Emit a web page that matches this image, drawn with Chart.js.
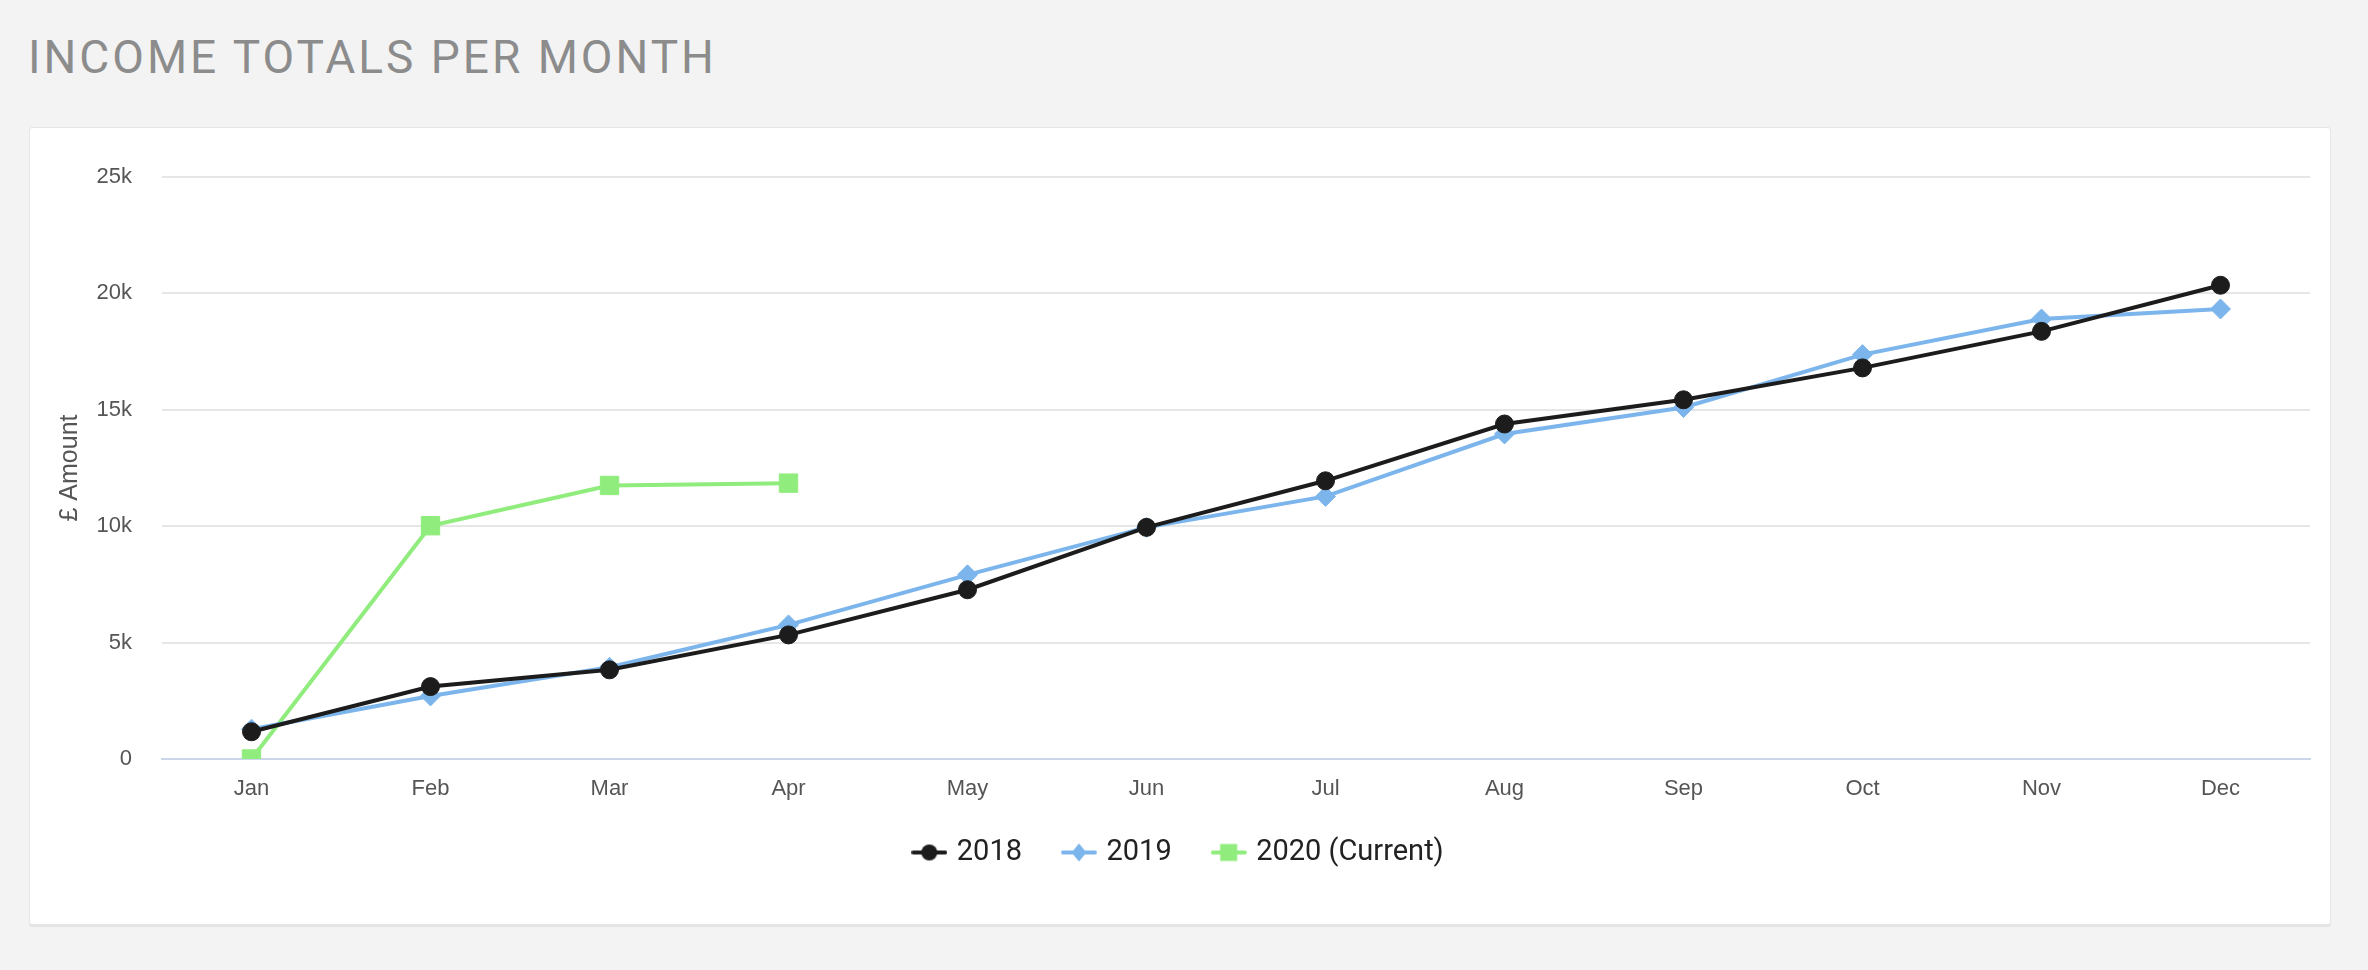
<!DOCTYPE html>
<html>
<head>
<meta charset="utf-8">
<script src="https://cdn.jsdelivr.net/npm/chart.js@4.4.1/dist/chart.umd.min.js"></script>
<style>
  html, body { margin: 0; padding: 0; }
  body { width: 2368px; height: 970px; background: #f3f3f3; position: relative; overflow: hidden; }
  #title {
    position: absolute; left: 28px; top: 34px;
    font-family: Roboto, "Liberation Sans", sans-serif; font-size: 46px; line-height: 1;
    color: #8c8c8c; white-space: nowrap; letter-spacing: 3px;
  }
  #card {
    position: absolute; left: 29px; top: 127px; width: 2300px; height: 796px;
    background: #fff; border: 1px solid #e6e6e6; border-radius: 3px;
    box-shadow: 0 2px 0 #e4e4e4;
  }
  #wrap { position: absolute; left: 0; top: 0; width: 2300px; height: 796px; }
</style>
</head>
<body>
<div id="title">INCOME TOTALS PER MONTH</div>
<div id="card"><div id="wrap"><canvas id="c"></canvas></div></div>
<script>
const months = ['Jan','Feb','Mar','Apr','May','Jun','Jul','Aug','Sep','Oct','Nov','Dec'];
const income2018 = [1170, 3110, 3830, 5330, 7270, 9950, 11950, 14390, 15430, 16800, 18370, 20350];
const income2019 = [1280, 2710, 3940, 5760, 7910, 9950, 11280, 13960, 15100, 17370, 18900, 19330];
const income2020 = [0, 10020, 11750, 11850];
const seriesNames = ['2018', '2019', '2020 (Current)'];
const seriesColors = ['#1c1c1c', '#7cb5ec', '#90ed7d'];
const yTickValues = [0, 5000, 10000, 15000, 20000, 25000];
const yTickLabels = ['0', '5k', '10k', '15k', '20k', '25k'];
const yAxisTitle = '£ Amount';

function legendMarker(color, shape) {
  const c = document.createElement('canvas');
  c.width = 36; c.height = 22;
  const g = c.getContext('2d');
  g.strokeStyle = color; g.lineWidth = 4; g.lineCap = 'round';
  g.beginPath(); g.moveTo(2, 11); g.lineTo(34, 11); g.stroke();
  g.fillStyle = color;
  g.beginPath();
  if (shape === 'circle') { g.arc(18, 11, 8, 0, Math.PI * 2); }
  else if (shape === 'diamond') { g.moveTo(18, 2); g.lineTo(25.5, 11); g.lineTo(18, 20); g.lineTo(10.5, 11); g.closePath(); }
  else { g.rect(9.5, 2.5, 17, 17); }
  g.fill();
  return c;
}
const markers = [legendMarker(seriesColors[0], 'circle'), legendMarker(seriesColors[1], 'diamond'), legendMarker(seriesColors[2], 'square')];

const legendNudge = {
  id: 'legendNudge',
  afterLayout(chart) {
    const l = chart.legend;
    if (l) { l.top -= 11; l.bottom -= 11; }
  }
};

new Chart(document.getElementById('c'), {
  type: 'line',
  data: {
    labels: months,
    datasets: [
      { label: seriesNames[0], data: income2018, borderColor: seriesColors[0], backgroundColor: seriesColors[0],
        pointStyle: 'circle', pointRadius: 9, pointBorderWidth: 1, borderWidth: 4, tension: 0 },
      { label: seriesNames[1], data: income2019, borderColor: seriesColors[1], backgroundColor: seriesColors[1],
        pointStyle: 'rectRot', pointRadius: 10, pointBorderWidth: 1, borderWidth: 4, tension: 0 },
      { label: seriesNames[2], data: income2020, borderColor: seriesColors[2], backgroundColor: seriesColors[2],
        pointStyle: 'rect', pointRadius: 13, pointBorderWidth: 1, borderWidth: 4, tension: 0 }
    ]
  },
  plugins: [legendNudge],
  options: {
    responsive: true, maintainAspectRatio: false, animation: false,
    events: [],
    layout: { padding: { left: 20, right: 20, top: 49, bottom: 36 } },
    plugins: {
      tooltip: { enabled: false },
      legend: {
        position: 'bottom',
        labels: {
          usePointStyle: true, pointStyleWidth: 26, padding: 44,
          font: { family: 'Roboto', size: 29 }, color: '#222',
          generateLabels: (chart) => chart.data.datasets.map((ds, i) => ({
            text: ds.label, pointStyle: markers[i], fillStyle: ds.borderColor, strokeStyle: ds.borderColor,
            lineWidth: 0, hidden: false, datasetIndex: i, fontColor: '#222'
          }))
        }
      }
    },
    scales: {
      x: {
        offset: true,
        grid: { display: false, drawTicks: false },
        border: { display: true, color: '#ccd6eb', width: 2 },
        ticks: { padding: 17, color: '#555', font: { family: 'Liberation Sans', size: 22 } },
        afterFit: (s) => { s.height = 46; }
      },
      y: {
        min: 0, max: 25000,
        afterBuildTicks: (s) => { s.ticks = yTickValues.map(v => ({ value: v })); },
        ticks: {
          padding: 30, color: '#555', font: { family: 'Liberation Sans', size: 22 },
          callback: (v) => yTickLabels[yTickValues.indexOf(v)]
        },
        grid: { drawTicks: false, color: (ctx) => ctx.tick && ctx.tick.value === 0 ? '#ccd6eb' : '#e6e6e6', lineWidth: 2 },
        border: { display: false },
        title: { display: true, text: yAxisTitle, color: '#555', font: { family: 'Liberation Sans', size: 25 }, padding: { top: 5, bottom: 0 } },
        afterFit: (s) => { s.width = 112; }
      }
    }
  }
});
</script>
</body>
</html>
